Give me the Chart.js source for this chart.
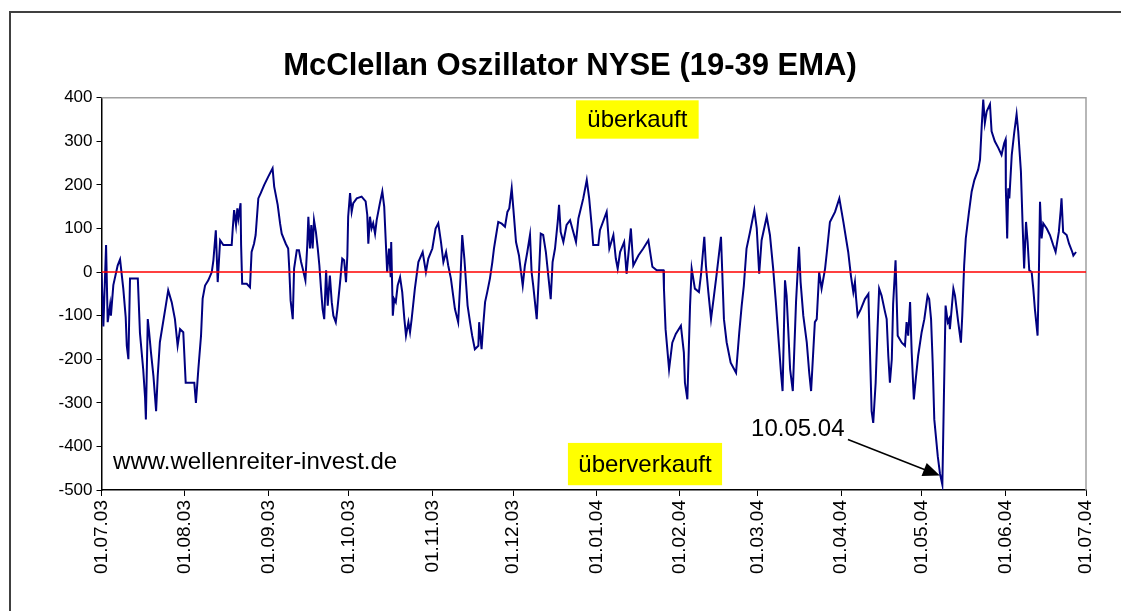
<!DOCTYPE html>
<html>
<head>
<meta charset="utf-8">
<title>McClellan Oszillator NYSE</title>
<script src="https://cdn.jsdelivr.net/npm/chart.js@4"></script>
<style>
html, body { margin: 0; padding: 0; background: #fff; }
#box { width: 1121px; height: 611px; }
</style>
</head>
<body>
<div id="box"><canvas id="myChart" width="1121" height="611"></canvas></div>
<script>
// month ticks: day offset from 01.07.03 and label
const monthDays = [0, 31, 62, 92, 123, 153, 184, 215, 244, 275, 305, 336, 366];
const monthLabels = ['01.07.03', '01.08.03', '01.09.03', '01.10.03', '01.11.03', '01.12.03',
    '01.01.04', '01.02.04', '01.03.04', '01.04.04', '01.05.04', '01.06.04', '01.07.04'];

// oscillator (day offset, value)
const dayOffsets = [
    0.0, 0.7, 1.7, 2.3, 3.2, 3.5, 4.4, 6.0, 6.9, 8.1, 9.0, 9.4, 10.0, 10.6, 13.5, 14.3, 15.5, 16.2, 16.5, 17.2,
    17.7, 18.4, 19.3, 20.3, 20.9, 21.7, 23.9, 24.8, 26.1, 27.3, 28.3, 29.2, 30.4, 31.3, 34.5, 35.1, 36.0, 37.0, 37.6, 38.5,
    39.7, 41.0, 41.6, 42.5, 43.2, 44.1, 45.3, 48.4, 48.8, 49.3, 50.0, 50.5, 50.9, 51.7, 51.9, 52.3, 54.0, 55.2, 55.8, 56.7,
    57.3, 58.3, 59.2, 60.5, 62.0, 63.6, 64.2, 65.5, 66.4, 67.0, 68.5, 69.4, 69.8, 70.3, 71.1, 71.6, 72.6, 73.4, 74.2, 74.8,
    75.8, 76.5, 76.9, 77.5, 78.0, 78.5, 79.0, 79.7, 80.4, 81.0, 81.6, 82.2, 82.8, 83.5, 84.1, 84.9, 85.6, 86.2, 87.1, 87.7,
    88.7, 89.5, 90.2, 90.9, 91.4, 91.7, 92.4, 93.0, 93.6, 94.9, 96.7, 98.2, 98.8, 99.2, 99.8, 100.4, 101.0, 101.7, 102.3, 103.5,
    104.4, 105.1, 105.8, 106.2, 106.9, 107.5, 107.7, 108.3, 108.8, 109.4, 110.1, 111.0, 111.8, 112.6, 113.2, 114.1, 114.7, 115.3, 116.5, 117.8,
    119.4, 120.6, 121.5, 123.0, 124.2, 125.2, 126.2, 127.1, 128.1, 128.9, 129.9, 131.4, 132.6, 133.5, 134.1, 134.9, 136.1, 137.0, 137.8, 138.8,
    140.1, 140.4, 141.3, 141.9, 142.6, 143.4, 144.4, 145.3, 145.9, 146.5, 147.5, 148.8, 150.0, 150.9, 151.6, 152.5, 153.1, 154.1, 155.2, 155.8,
    156.6, 157.4, 158.3, 159.3, 159.9, 160.5, 161.8, 162.6, 163.3, 164.2, 165.2, 166.1, 167.0, 167.7, 168.6, 169.6, 170.1, 170.7, 171.7, 172.9,
    174.2, 175.4, 176.4, 177.3, 179.1, 180.4, 181.3, 182.2, 182.8, 184.7, 185.3, 187.8, 188.8, 190.3, 191.2, 191.9, 192.8, 194.3, 195.2, 196.8,
    197.7, 199.6, 201.4, 203.3, 204.8, 206.4, 208.9, 209.1, 209.7, 211.0, 212.2, 213.5, 215.4, 216.5, 216.9, 217.8, 218.8, 219.4, 220.6, 222.1,
    222.9, 224.1, 224.7, 225.6, 226.6, 227.7, 228.7, 230.3, 231.4, 232.4, 233.9, 235.9, 237.1, 238.0, 238.8, 239.8, 241.1, 242.7, 243.6, 244.5,
    245.4, 247.3, 248.5, 249.7, 250.7, 251.6, 252.6, 253.2, 254.1, 254.7, 256.0, 257.0, 258.2, 259.3, 259.9, 260.9, 262.2, 263.1, 263.8, 265.2,
    265.9, 266.8, 267.7, 269.0, 269.8, 270.8, 272.7, 274.3, 275.8, 277.0, 277.6, 278.6, 279.5, 280.1, 280.5, 281.1, 282.3, 283.8, 285.1, 285.7,
    286.3, 286.9, 287.8, 288.5, 289.1, 290.0, 291.3, 291.9, 292.5, 293.1, 293.8, 294.3, 295.2, 296.0, 297.5, 298.7, 299.3, 299.9, 300.6, 301.2,
    302.0, 302.7, 303.6, 304.9, 305.9, 307.1, 307.7, 308.4, 309.0, 309.6, 310.9, 311.7, 312.6, 313.2, 313.8, 314.6, 315.1, 315.4, 316.1, 316.7,
    317.3, 318.5, 319.5, 320.0, 320.7, 321.3, 322.5, 323.5, 324.5, 325.9, 326.6, 327.2, 327.8, 328.4, 329.1, 330.3, 330.9, 332.1, 333.4, 334.6,
    335.6, 336.1, 336.2, 336.7, 337.1, 337.5, 338.4, 339.3, 340.2, 340.8, 341.8, 342.4, 343.0, 343.7, 344.3, 344.9, 345.8, 346.4, 347.0, 348.0,
    348.5, 348.9, 349.5, 350.1, 351.4, 352.6, 353.8, 354.7, 355.9, 356.6, 356.9, 357.5, 358.8, 359.7, 360.9, 361.3, 362.3
];
const oscValues = [
    0, -125, 62, -115, -75, -100, -30, 15, 29, -38, -104, -169, -200, -15, -15, -140, -223, -288, -338, -108,
    -138, -185, -238, -319, -238, -161, -77, -42, -69, -108, -169, -131, -138, -254, -254, -300, -223, -146, -61, -31,
    -19, 0, 27, 96, -23, 73, 62, 62, 100, 142, 108, 146, 123, 158, 62, -27, -27, -35, 46, 65,
    85, 169, 181, 200, 219, 238, 196, 154, 111, 88, 65, 54, 8, -65, -108, 8, 50, 50, 23, 8,
    -19, 62, 127, 54, 108, 54, 119, 92, 54, 15, -38, -85, -108, 4, -77, -8, -69, -100, -115, -85,
    -23, 31, 27, -23, 38, 127, 181, 138, 158, 169, 173, 162, 131, 65, 127, 100, 112, 88, 119, 158,
    185, 150, 54, 0, 54, -12, 69, -100, -62, -69, -31, -12, -46, -108, -146, -115, -138, -108, -38, 23,
    46, 0, 31, 54, 100, 112, 69, 23, 46, 15, -15, -85, -115, -8, 85, 31, -77, -115, -146, -177,
    -169, -115, -177, -123, -69, -46, -15, 23, 54, 77, 115, 111, 104, 138, 146, 192, 146, 69, 38, 8,
    -31, 15, 46, 85, 0, -31, -108, -8, 88, 85, 46, -8, -62, 23, 54, 115, 154, 92, 69, 108,
    119, 92, 69, 123, 169, 211, 169, 108, 62, 62, 96, 138, 54, 85, 31, 8, 46, 69, -4, 100,
    15, 38, 54, 73, 12, 4, 4, -38, -131, -223, -162, -142, -123, -185, -254, -292, -77, 8, -38, -46,
    -4, 81, 15, -46, -108, -54, -4, 81, -108, -161, -208, -231, -138, -77, -31, 54, 92, 142, 100, -4,
    73, 127, 85, 8, -69, -146, -231, -273, -19, -54, -223, -273, -69, 58, -23, -100, -162, -231, -273, -115,
    -108, 0, -38, 8, 54, 115, 138, 169, 115, 69, 46, -8, -46, -23, -58, -100, -85, -62, -50, -185,
    -319, -346, -254, -131, -38, -54, -92, -108, -192, -254, -200, -73, 27, -146, -162, -169, -115, -146, -69, -185,
    -292, -246, -192, -138, -108, -54, -62, -108, -208, -338, -423, -462, -488, -277, -77, -115, -108, -131, -81, -38,
    -54, -115, -162, -100, 15, 77, 138, 185, 211, 235, 258, 331, 396, 342, 369, 385, 323, 300, 285, 269,
    296, 304, 192, 77, 192, 169, 269, 319, 362, 323, 231, 115, 8, 115, 69, 4, 0, -38, -85, -146,
    4, 161, 77, 112, 100, 85, 62, 46, 92, 142, 169, 92, 85, 65, 46, 38, 46
];

const yMin = -500;
const yMax = 400;
const fontFamily = '"Liberation Sans", Arial, sans-serif';

const points = [];
for (let i = 0; i < dayOffsets.length; i++) {
    points.push({ x: dayOffsets[i], y: oscValues[i] });
}

function drawBoxText(ctx, chart, text, x1, x2, y1, y2) {
    const sx = chart.scales.x, sy = chart.scales.y;
    const l = sx.getPixelForValue(x1), r = sx.getPixelForValue(x2);
    const t = sy.getPixelForValue(y1), b = sy.getPixelForValue(y2);
    ctx.fillStyle = '#ffff00';
    ctx.fillRect(l, t, r - l, b - t);
    ctx.fillStyle = '#000';
    ctx.textAlign = 'center';
    ctx.textBaseline = 'middle';
    ctx.fillText(text, (l + r) / 2, (t + b) / 2 + 1);
}

const decor = {
    id: 'decor',
    beforeDraw(chart) {
        const ctx = chart.ctx;
        ctx.save();
        ctx.fillStyle = '#fff';
        ctx.fillRect(0, 0, chart.width, chart.height);
        // outer frame, only top and left are inside the picture
        ctx.strokeStyle = '#404040';
        ctx.lineWidth = 2;
        ctx.beginPath();
        ctx.moveTo(10, chart.height + 5);
        ctx.lineTo(10, 12);
        ctx.lineTo(chart.width + 5, 12);
        ctx.stroke();
        ctx.restore();
    },
    beforeDatasetsDraw(chart) {
        const a = chart.chartArea;
        const ctx = chart.ctx;
        ctx.save();
        ctx.strokeStyle = '#a0a0a0';
        ctx.lineWidth = 1.5;
        ctx.beginPath();
        ctx.moveTo(a.left, a.top);
        ctx.lineTo(a.right, a.top);
        ctx.lineTo(a.right, a.bottom);
        ctx.stroke();
        ctx.restore();
    },
    afterDraw(chart) {
        const ctx = chart.ctx;
        const sx = chart.scales.x, sy = chart.scales.y;
        ctx.save();
        ctx.font = '24px ' + fontFamily;
        drawBoxText(ctx, chart, 'überkauft', 176.4, 222, 394, 306);
        drawBoxText(ctx, chart, 'überverkauft', 173.4, 230.7, -392, -489);

        ctx.fillStyle = '#000';
        ctx.textAlign = 'left';
        ctx.textBaseline = 'middle';
        ctx.fillText('www.wellenreiter-invest.de', sx.getPixelForValue(4.3), sy.getPixelForValue(-437));
        ctx.fillText('10.05.04', sx.getPixelForValue(241.5), sy.getPixelForValue(-360));

        // arrow to the low
        const x1 = sx.getPixelForValue(277.5), y1 = sy.getPixelForValue(-384);
        const x2 = sx.getPixelForValue(311.7), y2 = sy.getPixelForValue(-467);
        const ang = Math.atan2(y2 - y1, x2 - x1);
        ctx.strokeStyle = '#000';
        ctx.lineWidth = 1.5;
        ctx.beginPath();
        ctx.moveTo(x1, y1);
        ctx.lineTo(x2 - 14 * Math.cos(ang), y2 - 14 * Math.sin(ang));
        ctx.stroke();
        ctx.beginPath();
        ctx.moveTo(x2, y2);
        ctx.lineTo(x2 - 17 * Math.cos(ang) + 7 * Math.sin(ang), y2 - 17 * Math.sin(ang) - 7 * Math.cos(ang));
        ctx.lineTo(x2 - 17 * Math.cos(ang) - 7 * Math.sin(ang), y2 - 17 * Math.sin(ang) + 7 * Math.cos(ang));
        ctx.closePath();
        ctx.fillStyle = '#000';
        ctx.fill();
        ctx.restore();
    }
};

const ctx = document.getElementById('myChart').getContext('2d');
new Chart(ctx, {
    type: 'line',
    data: {
        datasets: [
            {
                label: 'Null',
                data: [{ x: monthDays[0], y: 0 }, { x: monthDays[monthDays.length - 1], y: 0 }],
                borderColor: '#ff0000',
                borderWidth: 1.5,
                pointRadius: 0,
                order: 0
            },
            {
                label: 'McClellan Oszillator',
                data: points,
                borderColor: '#000080',
                borderWidth: 2,
                pointRadius: 0,
                tension: 0,
                order: 1
            }
        ]
    },
    options: {
        responsive: false,
        animation: false,
        events: [],
        // left padding + y axis width put the plot at x=101.5 and centre the title near 570
        layout: { padding: { left: 54, right: 35, top: 0, bottom: 0 } },
        plugins: {
            legend: { display: false },
            tooltip: { enabled: false },
            title: {
                display: true,
                text: 'McClellan Oszillator NYSE (19-39 EMA)',
                color: '#000',
                font: { family: fontFamily, size: 31, weight: 'bold' },
                padding: { top: 48, bottom: 12.5 }
            }
        },
        scales: {
            x: {
                type: 'linear',
                min: monthDays[0],
                max: monthDays[monthDays.length - 1],
                afterBuildTicks(scale) {
                    scale.ticks = monthDays.map(d => ({ value: d }));
                },
                afterFit(scale) {
                    scale.height = 121;
                },
                ticks: {
                    autoSkip: false,
                    maxRotation: 90,
                    minRotation: 90,
                    padding: 4,
                    color: '#000',
                    font: { family: fontFamily, size: 19 },
                    callback: (v) => monthLabels[monthDays.indexOf(v)]
                },
                grid: { drawOnChartArea: false, drawTicks: true, tickLength: 6, color: '#000' },
                border: { color: '#000', width: 1.5 }
            },
            y: {
                min: yMin,
                max: yMax,
                afterFit(scale) {
                    scale.width = 47.5;
                },
                ticks: {
                    stepSize: 100,
                    padding: 4,
                    color: '#000',
                    font: { family: fontFamily, size: 17 }
                },
                grid: { drawOnChartArea: false, drawTicks: true, tickLength: 5, color: '#000' },
                border: { color: '#000', width: 1.5 }
            }
        }
    },
    plugins: [decor]
});
</script>
</body>
</html>
